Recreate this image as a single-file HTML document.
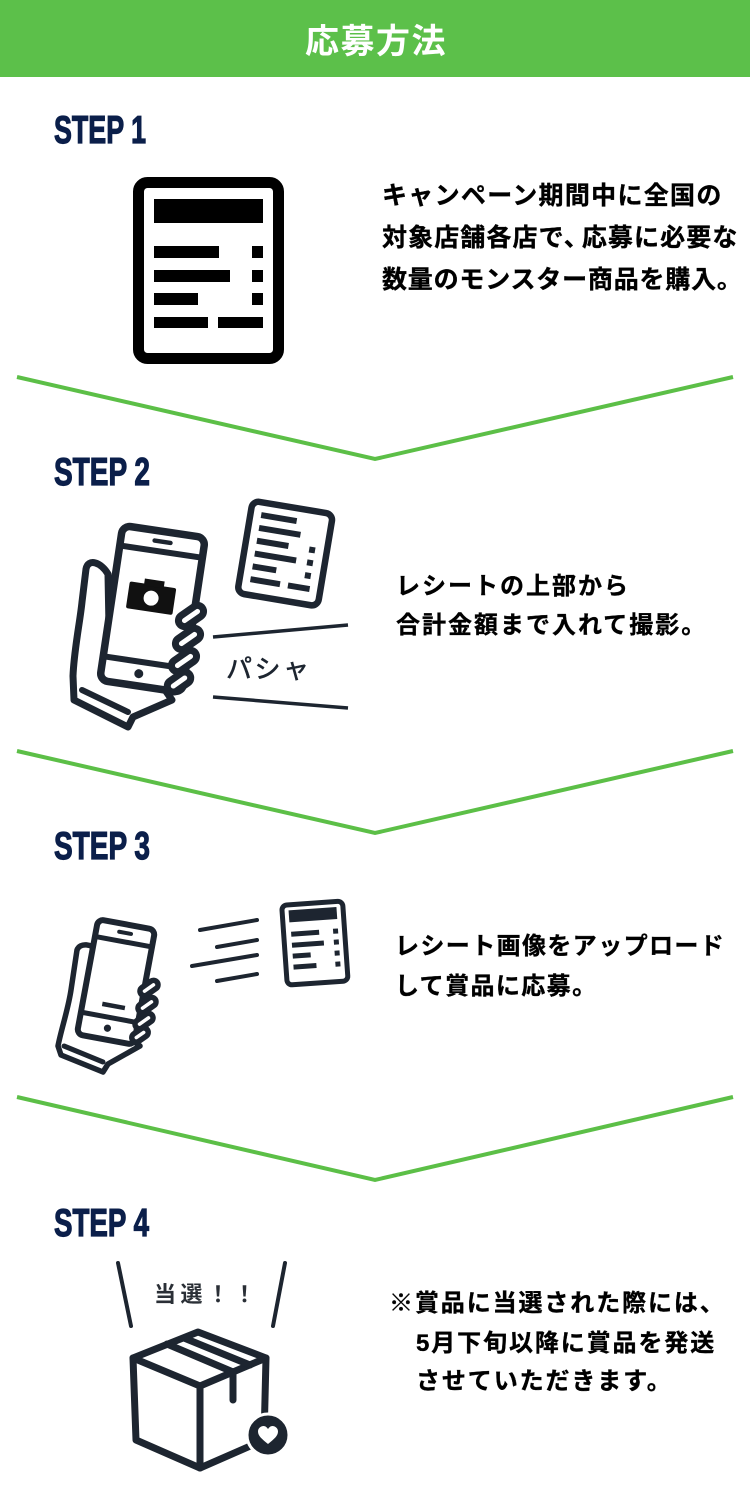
<!DOCTYPE html>
<html lang="ja">
<head>
<meta charset="utf-8">
<style>
  html,body{margin:0;padding:0;background:#fff;}
  body{width:750px;height:1505px;overflow:hidden;}
  svg{display:block;}
  .jp{font-family:"Liberation Sans","Noto Sans CJK JP",sans-serif;}
</style>
</head>
<body>
<svg width="750" height="1505" viewBox="0 0 750 1505" xmlns="http://www.w3.org/2000/svg">
  <rect x="0" y="0" width="750" height="1505" fill="#fff"/>

  <!-- Header -->
  <rect x="0" y="0" width="750" height="77" fill="#5cc04a"/>
  <text x="376" y="53" text-anchor="middle" class="jp" font-size="34" font-weight="bold" fill="#fff" style="letter-spacing:1.5px">応募方法</text>

  <!-- STEP labels -->
  <g font-family="'Liberation Sans Narrow','Liberation Sans',sans-serif" font-weight="bold" font-size="39" fill="#0b1f4a" stroke="#0b1f4a" stroke-width="1.2">
    <text x="54" y="143" textLength="92" lengthAdjust="spacingAndGlyphs">STEP 1</text>
    <text x="54" y="485" textLength="96" lengthAdjust="spacingAndGlyphs">STEP 2</text>
    <text x="54" y="859" textLength="96" lengthAdjust="spacingAndGlyphs">STEP 3</text>
    <text x="54" y="1236" textLength="95" lengthAdjust="spacingAndGlyphs">STEP 4</text>
  </g>

  <!-- Chevrons -->
  <g fill="none" stroke="#5cbf47" stroke-width="4" stroke-linejoin="miter">
    <polyline points="17,377 375,459 733,377"/>
    <polyline points="17,751 375,833 733,751"/>
    <polyline points="17,1097 375,1180 733,1097"/>
  </g>

  <!-- STEP 1 icon -->
  <g>
    <rect x="138.5" y="182.5" width="140" height="176" rx="9" fill="#fff" stroke="#000" stroke-width="11"/>
    <rect x="154" y="199" width="109" height="24" fill="#000"/>
    <rect x="154" y="246" width="65" height="12" fill="#000"/>
    <rect x="252" y="246" width="11" height="12" fill="#000"/>
    <rect x="154" y="270" width="76" height="12" fill="#000"/>
    <rect x="252" y="270" width="11" height="12" fill="#000"/>
    <rect x="154" y="293" width="44" height="12" fill="#000"/>
    <rect x="252" y="293" width="11" height="12" fill="#000"/>
    <rect x="154" y="317" width="54" height="11" fill="#000"/>
    <rect x="218" y="317" width="45" height="11" fill="#000"/>
  </g>

  <!-- STEP 1 text -->
  <g class="jp" font-size="25" font-weight="bold" fill="#000" stroke="#000" stroke-width="0.35">
    <text x="382" y="204" style="letter-spacing:1.3px">キャンペーン期間中に全国の</text>
    <text x="382" y="246" style="letter-spacing:1.1px">対象店舗各店で、<tspan dx="-8">応募に必要な</tspan></text>
    <text x="382" y="288" style="letter-spacing:0.8px">数量のモンスター商品を購入。</text>
  </g>

  <!-- STEP 2 illustration -->
  <g stroke="#1d2530" fill="#fff" stroke-linejoin="round" stroke-linecap="round">
    <!-- hand (thumb + palm) -->
    <path d="M108,574 C101,562 88,558 86,569 L82,602 C80,622 74,650 73,676 L74,700 L128,727 L133,717 L172,700 L165,690 L110,680 Z" stroke-width="7"/>
    <line x1="82" y1="690" x2="128" y2="712" stroke-width="6"/>
    <!-- phone -->
    <g transform="translate(152.5,609) rotate(8.5)">
      <rect x="-41.75" y="-78.25" width="83.5" height="156.5" rx="8" stroke-width="7.5"/>
      <line x1="-42" y1="-58" x2="42" y2="-58" stroke-width="6"/>
      <line x1="-8" y1="-68" x2="8" y2="-68" stroke-width="4.5"/>
      <line x1="-42" y1="54" x2="42" y2="54" stroke-width="6"/>
      <circle cx="-4" cy="66" r="4.5" fill="#1d2530" stroke="none"/>
      <!-- camera -->
      <rect x="-26.5" y="-24" width="47" height="27" rx="2" fill="#111" stroke="none"/>
      <rect x="-12" y="-29" width="20" height="7" fill="#111" stroke="none"/>
      <circle cx="-3" cy="-10.5" r="7.5" fill="#fff" stroke="none"/>
    </g>
    <!-- fingers -->
    <rect x="-14" y="-6" width="28" height="12" rx="6" transform="translate(191,616) rotate(-35)" stroke-width="7"/>
    <rect x="-14" y="-6" width="28" height="12" rx="6" transform="translate(188,639) rotate(-35)" stroke-width="7"/>
    <rect x="-14" y="-6" width="28" height="12" rx="6" transform="translate(184,661) rotate(-35)" stroke-width="7"/>
    <rect x="-13" y="-6" width="26" height="12" rx="6" transform="translate(179,682) rotate(-35)" stroke-width="7"/>
    <!-- receipt -->
    <g transform="translate(250,497) rotate(9.5)">
      <rect x="3.25" y="3.25" width="81.5" height="93.5" rx="7" stroke-width="6.5"/>
      <g stroke-width="6" stroke-linecap="butt">
        <line x1="14" y1="16" x2="50" y2="16"/>
        <line x1="14" y1="29" x2="56" y2="29"/>
        <line x1="14" y1="42" x2="46" y2="42"/>
        <line x1="14" y1="55" x2="56" y2="55"/>
        <line x1="14" y1="68" x2="38" y2="68"/>
        <line x1="14" y1="81" x2="44" y2="81"/>
        <line x1="52" y1="81" x2="74" y2="81"/>
        <line x1="67" y1="42" x2="73" y2="42"/>
        <line x1="67" y1="55" x2="73" y2="55"/>
        <line x1="67" y1="68" x2="73" y2="68"/>
      </g>
    </g>
    <!-- flash lines -->
    <line x1="213" y1="637" x2="348" y2="625" stroke-width="3.5" stroke-linecap="butt"/>
    <line x1="213" y1="697" x2="348" y2="708" stroke-width="3.5" stroke-linecap="butt"/>
  </g>
  <text x="226" y="678" class="jp" font-size="26" fill="#1d2530" stroke="#1d2530" stroke-width="0.6" style="letter-spacing:2.5px">パシャ</text>

  <!-- STEP 2 text -->
  <g class="jp" font-size="24" font-weight="bold" fill="#000" stroke="#000" stroke-width="0.35">
    <text x="396" y="594" style="letter-spacing:2px">レシートの上部から</text>
    <text x="396" y="633" style="letter-spacing:2px">合計金額まで入れて撮影。</text>
  </g>

  <!-- STEP 3 illustration -->
  <g stroke="#1d2530" fill="#fff" stroke-linejoin="round" stroke-linecap="round">
    <path d="M98,951 C92,944 80,942 77,950 L71,990 C68,1010 61,1030 58,1046 L61,1055 L103,1072 L108,1064 L140,1046 L132,1040 L90,1032 Z" stroke-width="5.5"/>
    <line x1="64" y1="1046" x2="103" y2="1062" stroke-width="5"/>
    <g transform="translate(116,982) rotate(10.5)">
      <rect x="-29" y="-58.5" width="58" height="117" rx="6" stroke-width="6"/>
      <line x1="-29" y1="-41" x2="29" y2="-41" stroke-width="5"/>
      <line x1="-6" y1="-50" x2="6" y2="-50" stroke-width="4"/>
      <line x1="-9.5" y1="24" x2="13.5" y2="24" stroke-width="4.5" stroke-linecap="butt"/>
      <line x1="-29" y1="36" x2="29" y2="36" stroke-width="5"/>
      <circle cx="0" cy="47" r="3.6" fill="#1d2530" stroke="none"/>
    </g>
    <rect x="-10" y="-4.5" width="20" height="9" rx="4.5" transform="translate(149,988) rotate(-35)" stroke-width="5.5"/>
    <rect x="-10" y="-4.5" width="20" height="9" rx="4.5" transform="translate(147,1005) rotate(-35)" stroke-width="5.5"/>
    <rect x="-10" y="-4.5" width="20" height="9" rx="4.5" transform="translate(144,1021) rotate(-35)" stroke-width="5.5"/>
    <rect x="-9" y="-4.5" width="18" height="9" rx="4.5" transform="translate(140,1035) rotate(-35)" stroke-width="5.5"/>
    <!-- speed lines -->
    <g stroke-width="4">
      <line x1="200" y1="930" x2="257" y2="920"/>
      <line x1="217" y1="947" x2="257" y2="940"/>
      <line x1="192" y1="966" x2="257" y2="955"/>
      <line x1="217" y1="981" x2="257" y2="974"/>
    </g>
    <!-- receipt -->
    <g transform="translate(279,903) rotate(-4)">
      <rect x="2.5" y="2.5" width="61" height="80" rx="5" stroke-width="5"/>
      <rect x="9" y="8" width="48" height="12" fill="#1d2530" stroke="none"/>
      <g stroke-width="5" stroke-linecap="butt">
        <line x1="10" y1="32" x2="38" y2="32"/>
        <line x1="10" y1="43" x2="42" y2="43"/>
        <line x1="10" y1="54" x2="28" y2="54"/>
        <line x1="10" y1="65" x2="33" y2="65"/>
        <line x1="52" y1="32" x2="57" y2="32"/>
        <line x1="52" y1="43" x2="57" y2="43"/>
        <line x1="52" y1="54" x2="57" y2="54"/>
        <line x1="52" y1="65" x2="57" y2="65"/>
      </g>
    </g>
  </g>

  <!-- STEP 3 text -->
  <g class="jp" font-size="24" font-weight="bold" fill="#000" stroke="#000" stroke-width="0.35">
    <text x="395" y="954" style="letter-spacing:1.4px">レシート画像をアップロード</text>
    <text x="395" y="994" style="letter-spacing:1.4px">して賞品に応募。</text>
  </g>

  <!-- STEP 4 illustration -->
  <g stroke="#1d2530" fill="none" stroke-linecap="round" stroke-linejoin="round">
    <line x1="118" y1="1263" x2="131" y2="1326" stroke-width="4"/>
    <line x1="285" y1="1263" x2="273" y2="1326" stroke-width="4"/>
    <g stroke-width="7">
      <path d="M198,1332 L266,1358 L264,1440 L200,1468 L136,1440 L133,1358 Z" fill="#fff"/>
      <polyline points="133,1358 200,1386 266,1358"/>
      <line x1="200" y1="1386" x2="200" y2="1468"/>
      <line x1="167" y1="1344" x2="233" y2="1372"/>
      <line x1="184" y1="1338" x2="250" y2="1365"/>
      <line x1="233" y1="1372" x2="233" y2="1400"/>
    </g>
    <circle cx="268" cy="1435" r="21" fill="#1d2530" stroke="#fff" stroke-width="3"/>
    <path d="M268,1444 C262,1439 258,1436 258,1431.5 C258,1428 261,1426 263.5,1426 C265.5,1426 267,1427.5 268,1429 C269,1427.5 270.5,1426 272.5,1426 C275,1426 278,1428 278,1431.5 C278,1436 274,1439 268,1444 Z" fill="#fff" stroke="none"/>
  </g>
  <text x="154" y="1302" class="jp" font-size="22" font-weight="bold" fill="#2a2f36" style="letter-spacing:4.5px">当選！！</text>

  <!-- STEP 4 text -->
  <g class="jp" font-size="24" font-weight="bold" fill="#000" stroke="#000" stroke-width="0.35">
    <text x="389" y="1311" style="letter-spacing:1.9px">※賞品に当選された際には、</text>
    <text x="416" y="1351" style="letter-spacing:1.9px">5月下旬以降に賞品を発送</text>
    <text x="416" y="1389" style="letter-spacing:1.9px">させていただきます。</text>
  </g>
</svg>
</body>
</html>
